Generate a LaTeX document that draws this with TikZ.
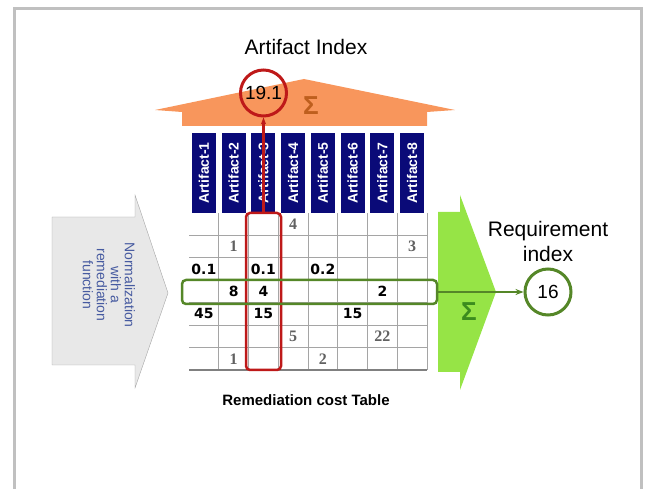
\documentclass[tikz,border=0pt]{standalone}
\usepackage{fontspec}
\setmainfont{Liberation Sans}
\newfontfamily\numserif{Liberation Serif}
\newfontfamily\numheavy{DejaVu Sans}
\usetikzlibrary{positioning, arrows.meta}
\definecolor{roofor}{RGB}{248,150,92}
\definecolor{sigmaor}{RGB}{190,95,30}
\definecolor{leafgreen}{RGB}{150,228,70}
\definecolor{olive}{RGB}{85,135,40}
\definecolor{sigmagr}{RGB}{60,140,30}
\definecolor{navyhead}{RGB}{10,10,120}
\definecolor{selred}{RGB}{190,25,25}
\definecolor{normblue}{RGB}{70,90,160}
\definecolor{arrowgray}{RGB}{232,232,232}
\definecolor{gridgray}{RGB}{165,165,165}
\definecolor{framegray}{RGB}{192,192,192}
\tikzstyle{header} = [rectangle, fill=navyhead, text=white, minimum width=80, minimum height=24, inner sep=0, rotate=90, font=\bfseries\fontsize{14}{14}\selectfont]
\tikzstyle{bignum} = [font=\numheavy\bfseries\fontsize{14}{14}\selectfont]
\tikzstyle{graynum} = [font=\numserif\bfseries\fontsize{16}{16}\selectfont, text=black!62]
\tikzstyle{idxcircle} = [circle, line width=3, minimum size=46, inner sep=0, font=\fontsize{19}{19}\selectfont]
\tikzstyle{selbox} = [rectangle, rounded corners=4, line width=2.5, minimum size=0, inner sep=0]
\tikzstyle{sigma} = [font=\bfseries\fontsize{26}{26}\selectfont]

\begin{document}
\begin{tikzpicture}[x=1pt, y=-1pt]
        \useasboundingbox (0,0) rectangle (646,489);
        \draw [framegray, line width=3] (14.5,489) -- (14.5,8.5) -- (641.5,8.5) -- (641.5,489);

        \fill [roofor] (155,110) -- (304,79) -- (455,110) -- (427,112) -- (427,126) -- (182,126) -- (182,112) -- cycle;
        \draw [gray!70, fill=arrowgray] (52,217) -- (135,217) -- (135,195) -- (168,293) -- (135,388) -- (135,365) -- (52,365) -- cycle;
        \fill [leafgreen] (438,212) -- (460,212) -- (460,195) -- (496,292) -- (460,390) -- (460,372) -- (438,372) -- cycle;

        \node (normtext) [rotate=-90, text=normblue, align=center, font=\fontsize{14}{14}\selectfont] at (109,285) {Normalization\\with a\\remediation\\function};

        \foreach \i in {1,...,8}
            \node (art\i) [header] at ({189+29.75*(\i-0.5)},173) {Artifact-\i};

        \foreach \r in {1,...,6}
            \draw [gridgray, line width=0.8] (189,{213+22.43*\r}) -- (427,{213+22.43*\r});
        \foreach \c in {1,...,8}
            \draw [gridgray, line width=0.8] ({189+29.75*\c},213) -- ({189+29.75*\c},370);
        \draw [gray, line width=1.2] (189,370) -- (427,370);

        \foreach \r/\c/\v/\s in {1/4/4/graynum, 2/2/1/graynum, 2/8/3/graynum, 3/1/0.1/bignum, 3/3/0.1/bignum, 3/5/0.2/bignum, 4/2/8/bignum, 4/3/4/bignum, 4/7/2/bignum, 5/1/45/bignum, 5/3/15/bignum, 5/6/15/bignum, 6/4/5/graynum, 6/7/22/graynum, 7/2/1/graynum, 7/5/2/graynum}
            \node (cell-\r-\c) [\s] at ({189+29.75*(\c-0.5)},{213+22.43*(\r-0.5)}) {\v};

        \node (sumart) [sigma, text=sigmaor] at (311,106) {Σ};
        \node (sumreq) [sigma, text=sigmagr] at (469,312) {Σ};

        \node (colsel) [selbox, draw=selred, minimum width=35, minimum height=157] at (263.5,291.5) {};
        \node (rowsel) [selbox, draw=olive, minimum width=255, minimum height=24] at (309.5,292) {};

        \node (artidx) [idxcircle, draw=selred] at (263.5,93) {19.1};
        \node (reqidx) [idxcircle, draw=olive, fill=white] at (548,292) {16};

        \draw [selred, line width=2.2, -{Stealth[length=7]}] (colsel.north) -- (artidx.south);
        \draw [olive, line width=2.4, -{Stealth[length=8]}] (rowsel.east) -- (reqidx.west);

        \node (artlabel) [font=\fontsize{21}{21}\selectfont] at (306,47) {Artifact Index};
        \node (reqlabel) [above=2pt of reqidx, align=center, font=\fontsize{21}{25}\selectfont] {Requirement\\index};
        \node (tablecap) [font=\bfseries\fontsize{15}{15}\selectfont] at (306,400) {Remediation cost Table};
    \end{tikzpicture}
\end{document}
